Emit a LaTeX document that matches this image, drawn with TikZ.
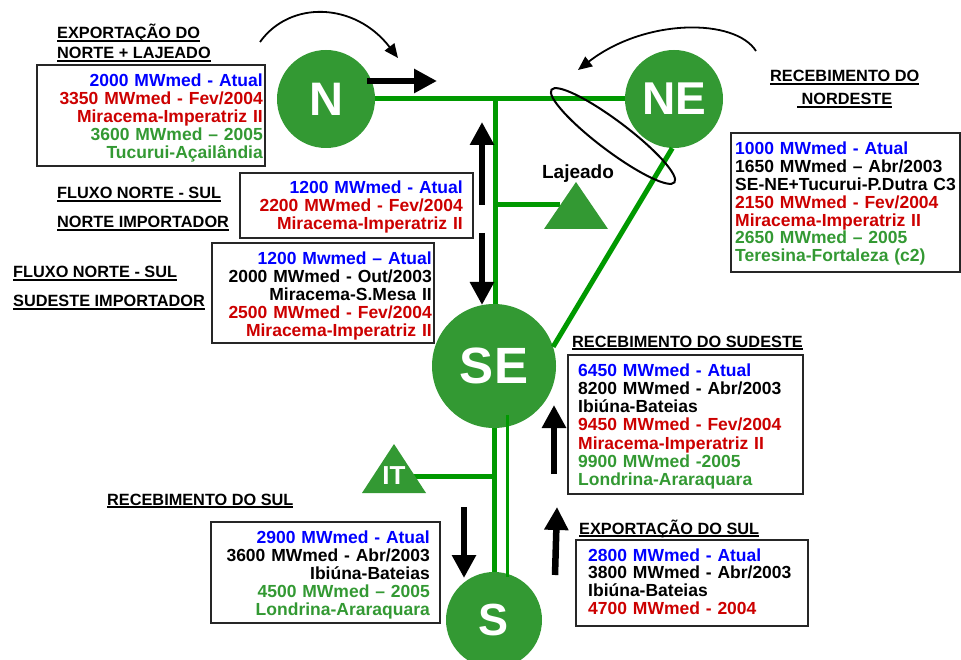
\documentclass[tikz,border=0pt]{standalone}
\usepackage{fontspec}
\setmainfont{Liberation Sans}
\usetikzlibrary{arrows.meta,shapes.geometric}
\definecolor{cblue}{RGB}{0,0,255}
\definecolor{cred}{RGB}{204,0,0}
\definecolor{cgreen}{RGB}{51,153,51}
\definecolor{lgreen}{RGB}{0,153,0}
\newcommand{\ulx}[1]{\setbox0=\hbox{#1}\rlap{\rule[-2.6pt]{\wd0}{1.5pt}}\box0}
\begin{document}
\begin{tikzpicture}[x=1pt,y=-1pt,
  hub/.style={circle, fill=cgreen, minimum size=#1, inner sep=0pt, text=white, text depth=0pt},
  grid/.style={draw=lgreen, line width=5pt},
  thingrid/.style={draw=lgreen, line width=3pt},
  flow/.style={line width=6.5pt, -{Triangle[length=23pt,width=23pt]}},
  swing/.style={line width=1.8pt, -{Triangle[length=14pt,width=12pt]}},
  infobox/.style={draw=black!85, line width=1.3pt},
  ttl/.style={anchor=base west, inner sep=0pt, font=\bfseries\fontsize{16.3}{16.3}\selectfont},
  rtxt/.style={anchor=base east, inner sep=0pt, text width=260pt, align=right, font=\bfseries\fontsize{17.5}{17.8}\selectfont},
  ltxt/.style={anchor=base west, inner sep=0pt, text width=260pt, align=left, font=\bfseries\fontsize{17.5}{17.8}\selectfont},
  tri/.style={fill=cgreen}
]
\useasboundingbox (0,0) rectangle (961,660);

% hubs
\node[hub=98pt, font=\bfseries\fontsize{47}{47}\selectfont] (N) at (326,99) {N};
\node[hub=98pt, font=\bfseries\fontsize{46}{46}\selectfont] (NE) at (674,99) {NE};
\node[hub=124pt, font=\bfseries\fontsize{51}{51}\selectfont] (SE) at (494,366) {SE};
\node[hub=96pt, font=\bfseries\fontsize{45}{45}\selectfont] (S) at (494,620) {S};

% junction coordinates
\coordinate (jn) at (495,99);
\coordinate (lj) at (560,205);
\coordinate (itr) at (412,476);
\coordinate (tna) at (507,415);
\coordinate (tnb) at (507,577);

% green lines
\draw[grid] (N.east) -- (NE.west);
\draw[grid] (jn) -- (jn |- SE.north);
\draw[grid] (jn |- lj) -- (lj);
\draw[grid] (NE.-92) -- (SE.18);
\draw[grid] (SE.south) -- (S.north);
\draw[grid] (itr) -- (itr -| SE.south);
\draw[thingrid] (tna) -- (tnb);

% triangles
\fill[tri] (576,182) -- (608,229) -- (544,229) -- cycle;
\fill[tri] (394,444) -- (426,493) -- (362,493) -- cycle;
\node[inner sep=0pt, text=white, text depth=0pt, font=\bfseries\fontsize{26}{26}\selectfont] (IT) at (394,476) {IT};
\node[anchor=base, inner sep=0pt, font=\bfseries\fontsize{19}{19}\selectfont] (ljt) at (578,179) {Lajeado};

% ellipse
\node[draw, ellipse, line width=2pt, minimum width=154pt, minimum height=30pt, rotate=-37, inner sep=0pt] (ring) at (613,136) {};

% black flow arrows
\coordinate (a1s) at (367,81);  \coordinate (a1e) at (437,81);
\coordinate (a2s) at (482,205); \coordinate (a2e) at (482,122);
\coordinate (a3s) at (482,233); \coordinate (a3e) at (482,305);
\coordinate (a4s) at (464,507); \coordinate (a4e) at (464,578);
\coordinate (a5s) at (554,474); \coordinate (a5e) at (554,405);
\coordinate (a6s) at (555,575); \coordinate (a6e) at (557,507);
\draw[flow] (a1s) -- (a1e);
\draw[flow] (a2s) -- (a2e);
\draw[flow] (a3s) -- (a3e);
\draw[flow] (a4s) -- (a4e);
\draw[flow] (a5s) -- (a5e);
\draw[flow] (a6s) -- (a6e);

% curved arrows
\coordinate (c1s) at (260,42); \coordinate (c1e) at (398,58);
\coordinate (c2s) at (756,51); \coordinate (c2e) at (578,70);
\draw[swing] (c1s) .. controls (290,0) and (355,2) .. (c1e);
\draw[swing] (c2s) .. controls (735,18) and (645,18) .. (c2e);

% titles
\node[ttl] (t1a) at (57,39) {\ulx{EXPORTAÇÃO DO}};
\node[ttl] (t1b) at (57,59) {\ulx{NORTE + LAJEADO}};
\node[ttl] (t2a) at (57,199) {\ulx{FLUXO NORTE - SUL}};
\node[ttl] (t2b) at (57,228) {\ulx{NORTE IMPORTADOR}};
\node[ttl] (t3a) at (13,278) {\ulx{FLUXO NORTE - SUL}};
\node[ttl] (t3b) at (13,307) {\ulx{SUDESTE IMPORTADOR}};
\node[ttl] (t4a) at (770,82) {\ulx{RECEBIMENTO DO}};
\node[ttl] (t4b) at (797,105) {\ulx{\hspace{4.5pt}NORDESTE}};
\node[ttl] (t5) at (572,347) {\ulx{RECEBIMENTO DO SUDESTE}};
\node[ttl] (t6) at (579,534) {\ulx{EXPORTAÇÃO DO SUL}};
\node[ttl] (t7) at (107,505) {\ulx{RECEBIMENTO DO SUL}};

% boxes
\draw[infobox] (37,65) rectangle (265,166);
\node[rtxt] (b1) at (263,87) {\textcolor{cblue}{2000 MWmed - Atual}\\
\textcolor{cred}{3350 MWmed - Fev/2004}\\
\textcolor{cred}{Miracema-Imperatriz II}\\
\textcolor{cgreen}{3600 MWmed – 2005}\\
\textcolor{cgreen}{Tucurui-Açailândia}};

\draw[infobox] (240,173) rectangle (473,238);
\node[rtxt] (b2) at (463,194) {\textcolor{cblue}{1200 MWmed - Atual}\\
\textcolor{cred}{2200 MWmed - Fev/2004}\\
\textcolor{cred}{Miracema-Imperatriz II}};

\draw[infobox] (212,243) rectangle (434,343);
\node[rtxt] (b3) at (432,265) {\textcolor{cblue}{1200 Mwmed – Atual}\\
2000 MWmed - Out/2003\\
Miracema-S.Mesa II\\
\textcolor{cred}{2500 MWmed - Fev/2004}\\
\textcolor{cred}{Miracema-Imperatriz II}};

\draw[infobox] (731,133) rectangle (960,272);
\node[ltxt] (b4) at (735,155) {\textcolor{cblue}{1000 MWmed - Atual}\\
1650 MWmed – Abr/2003\\
SE-NE+Tucurui-P.Dutra C3\\
\textcolor{cred}{2150 MWmed - Fev/2004}\\
\textcolor{cred}{Miracema-Imperatriz II}\\
\textcolor{cgreen}{2650 MWmed – 2005}\\
\textcolor{cgreen}{Teresina-Fortaleza (c2)}};

\draw[infobox] (568,355) rectangle (803,494);
\node[ltxt, font=\bfseries\fontsize{17.5}{18.3}\selectfont] (b5) at (578,376) {\textcolor{cblue}{6450 MWmed - Atual}\\
8200 MWmed - Abr/2003\\
Ibiúna-Bateias\\
\textcolor{cred}{9450 MWmed - Fev/2004}\\
\textcolor{cred}{Miracema-Imperatriz II}\\
\textcolor{cgreen}{9900 MWmed -2005}\\
\textcolor{cgreen}{Londrina-Araraquara}};

\draw[infobox] (576,540) rectangle (808,626);
\node[ltxt] (b6) at (588,561) {\textcolor{cblue}{2800 MWmed - Atual}\\
3800 MWmed - Abr/2003\\
Ibiúna-Bateias\\
\textcolor{cred}{4700 MWmed - 2004}};

\draw[infobox] (211,522) rectangle (440,623);
\node[rtxt, font=\bfseries\fontsize{17.5}{18}\selectfont] (b7) at (430,543) {\textcolor{cblue}{2900 MWmed - Atual}\\
3600 MWmed - Abr/2003\\
Ibiúna-Bateias\\
\textcolor{cgreen}{4500 MWmed – 2005}\\
\textcolor{cgreen}{Londrina-Araraquara}};
\end{tikzpicture}
\end{document}
